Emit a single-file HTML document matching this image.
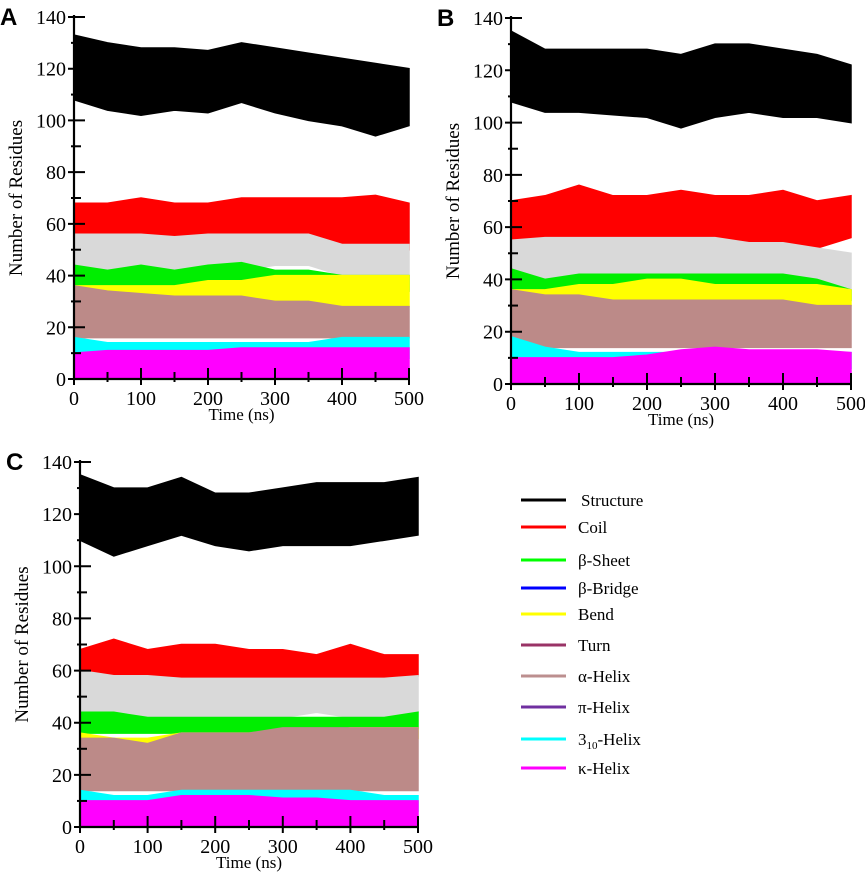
<!DOCTYPE html>
<html><head><meta charset="utf-8">
<style>
html,body{margin:0;padding:0;background:#fff;}
svg{display:block;font-family:"Liberation Serif",serif;}
</style></head>
<body>
<svg id="chart" width="865" height="876" viewBox="0 0 865 876"></svg>
<script>
const times=[0,50,100,150,200,250,300,350,400,450,500];
const xTicks=[0,100,200,300,400,500];
const yTicks=[0,20,40,60,80,100,120,140];
// Panel A
const A_structure_hi=[133,130,128,128,127,130,128,126,124,122,120];
const A_structure_lo=[108,104,102,104,103,107,103,100,98,94,98];
const A_coil_hi=[68,68,70,68,68,70,70,70,70,71,68];
const A_coil_lo=[54,54,52,54,54,54,54,52,52,50,50];
const A_other_hi=[56,56,56,55,56,56,56,56,52,52,52];
const A_other_lo=[40,40,40,40,42,42,44,44,40,40,40];
const A_sheet_hi=[44,42,44,42,44,45,42,42,40,40,40];
const A_sheet_lo=[34,34,34,34,36,36,36,36,34,34,34];
const A_bend_hi=[36,36,36,36,38,38,40,40,40,40,40];
const A_bend_lo=[30,30,30,30,30,28,26,24,26,26,28];
const A_alpha_hi=[36,34,33,32,32,32,30,30,28,28,28];
const A_alpha_lo=[16,16,16,16,16,16,16,16,16,16,16];
const A_h310_hi=[16,14,14,14,14,14,14,14,16,16,16];
const A_h310_lo=[8,8,8,8,8,8,8,8,8,8,8];
const A_kappa_hi=[10,11,11,11,11,12,12,12,12,12,12];
const A_kappa_lo=[0,0,0,0,0,0,0,0,0,0,0];
// Panel B
const B_structure_hi=[135,128,128,128,128,126,130,130,128,126,122];
const B_structure_lo=[108,104,104,103,102,98,102,104,102,102,100];
const B_coil_hi=[70,72,76,72,72,74,72,72,74,70,72];
const B_coil_lo=[55,52,54,52,52,52,54,52,52,52,56];
const B_other_hi=[55,56,56,56,56,56,56,54,54,52,50];
const B_other_lo=[40,40,42,42,40,40,40,40,40,38,36];
const B_sheet_hi=[44,40,42,42,42,42,42,42,42,40,36];
const B_sheet_lo=[36,36,36,36,36,36,36,36,36,34,32];
const B_bend_hi=[36,36,38,38,40,40,38,38,38,38,36];
const B_bend_lo=[30,30,30,30,28,26,28,28,28,28,30];
const B_alpha_hi=[36,34,34,32,32,32,32,32,32,30,30];
const B_alpha_lo=[14,14,14,14,14,14,14,14,14,14,14];
const B_h310_hi=[18,14,12,12,12,12,12,12,12,12,12];
const B_h310_lo=[6,6,6,6,6,6,6,6,6,6,6];
const B_kappa_hi=[10,10,10,10,11,13,14,13,13,13,12];
const B_kappa_lo=[0,0,0,0,0,0,0,0,0,0,0];
// Panel C
const C_structure_hi=[135,130,130,134,128,128,130,132,132,132,134];
const C_structure_lo=[110,104,108,112,108,106,108,108,108,110,112];
const C_coil_hi=[68,72,68,70,70,68,68,66,70,66,66];
const C_coil_lo=[58,56,56,56,56,56,56,56,56,56,58];
const C_other_hi=[60,58,58,57,57,57,57,57,57,57,58];
const C_other_lo=[42,44,42,42,42,42,42,44,42,42,44];
const C_sheet_hi=[44,44,42,42,42,42,42,42,42,42,44];
const C_sheet_lo=[36,36,36,36,36,36,36,38,38,38,38];
const C_bend_hi=[36,34,34,36,36,36,36,36,38,38,38];
const C_bend_lo=[30,28,28,30,32,32,32,32,34,34,34];
const C_alpha_hi=[34,34,32,36,36,36,38,38,38,38,38];
const C_alpha_lo=[14,14,14,14,14,14,14,14,14,14,14];
const C_h310_hi=[14,12,12,14,14,14,14,14,14,12,12];
const C_h310_lo=[6,6,6,6,6,6,6,6,6,6,6];
const C_kappa_hi=[10,10,10,12,12,12,11,11,10,10,10];
const C_kappa_lo=[0,0,0,0,0,0,0,0,0,0,0];

const legendLabels=["Structure","Coil","β-Sheet","β-Bridge","Bend","Turn","α-Helix","π-Helix","3₁₀-Helix","κ-Helix"];
const legendColors=["#000000","#ff0000","#00ff00","#0000ff","#ffff00","#993366","#bc8f8f","#7030a0","#00ffff","#ff00ff"];

const NS="http://www.w3.org/2000/svg";
const svg=document.getElementById('chart');
function mk(tag,attrs,parent){const e=document.createElementNS(NS,tag);for(const k in attrs)e.setAttribute(k,attrs[k]);(parent||svg).appendChild(e);return e;}

function drawPanel(letter,x0,x1,y0,y1,layers){
  const g=mk('g',{});
  
  
  const sx=t=>x0+(x1-x0)*t/500;
  const sy=v=>y0-(y0-y1)*v/140;
  layers.forEach(L=>{
    let d='';
    times.forEach((t,i)=>{d+=(i?'L':'M')+sx(t).toFixed(1)+','+sy(L.hi[i]).toFixed(1);});
    for(let i=times.length-1;i>=0;i--){d+='L'+sx(times[i]).toFixed(1)+','+sy(L.lo[i]).toFixed(1);}
    const p=mk('path',{d:d+'Z',fill:L.color,stroke:L.color,'stroke-width':1.5,'stroke-linejoin':'miter'},g);
    
    
  });
  const ax=mk('path',{d:`M${x0},${y1-2}V${y0}H${x1}`,stroke:'#000','stroke-width':2.2,fill:'none'},g);
  
  
  for(let v=0;v<=140;v+=10){
    const major=v%20===0;
    const y=sy(v);
    const tk=mk('line',{x1:x0-(major?6:3),x2:x0+(major?11:7),y1:y,y2:y,stroke:'#000','stroke-width':2},g);
    
    
  }
  yTicks.forEach(v=>{
    const t=mk('text',{x:x0-8,y:sy(v)+7,'text-anchor':'end','font-size':20},g);
    t.textContent=v;
    
    
  });
  for(let v=0;v<=500;v+=50){
    const major=v%100===0;
    const x=sx(v);
    const tk=mk('line',{x1:x,x2:x,y1:y0-(major?11:7),y2:y0+(major?6:3),stroke:'#000','stroke-width':2},g);
    
    
  }
  xTicks.forEach(v=>{
    const t=mk('text',{x:sx(v),y:y0+26,'text-anchor':'middle','font-size':20},g);
    t.textContent=v;
    
    
  });
  const xt=mk('text',{x:(x0+x1)/2,y:y0+41,'text-anchor':'middle','font-size':17},g);
  xt.textContent='Time (ns)';
  
  
  const ym=(y0+y1)/2;
  const yt=mk('text',{x:x0-52,y:ym,'text-anchor':'middle','font-size':19,transform:`rotate(-90 ${x0-52} ${ym})`},g);
  yt.textContent='Number of Residues';
  
  
  const pl=mk('text',{x:x0-74,y:y1+8,'font-size':24,'font-weight':'bold','font-family':'Liberation Sans, sans-serif'},g);
  pl.textContent=letter;
  
  
}
function layersFor(P){
  return [
    {name:'structure',color:'#000',hi:P.structure_hi,lo:P.structure_lo},
    {name:'coil',color:'#ff0000',hi:P.coil_hi,lo:P.coil_lo},
    {name:'other',color:'#d9d9d9',hi:P.other_hi,lo:P.other_lo},
    {name:'beta-sheet',color:'#00ee00',hi:P.sheet_hi,lo:P.sheet_lo},
    {name:'bend',color:'#ffff00',hi:P.bend_hi,lo:P.bend_lo},
    {name:'alpha-helix',color:'#bc8a88',hi:P.alpha_hi,lo:P.alpha_lo},
    {name:'3-10-helix',color:'#00ffff',hi:P.h310_hi,lo:P.h310_lo},
    {name:'kappa-helix',color:'#ff00ff',hi:P.kappa_hi,lo:P.kappa_lo}
  ];
}
drawPanel('A',74,409,379,17,layersFor({structure_hi:A_structure_hi,structure_lo:A_structure_lo,coil_hi:A_coil_hi,coil_lo:A_coil_lo,other_hi:A_other_hi,other_lo:A_other_lo,sheet_hi:A_sheet_hi,sheet_lo:A_sheet_lo,bend_hi:A_bend_hi,bend_lo:A_bend_lo,alpha_hi:A_alpha_hi,alpha_lo:A_alpha_lo,h310_hi:A_h310_hi,h310_lo:A_h310_lo,kappa_hi:A_kappa_hi,kappa_lo:A_kappa_lo}));
drawPanel('B',511,851,384,18,layersFor({structure_hi:B_structure_hi,structure_lo:B_structure_lo,coil_hi:B_coil_hi,coil_lo:B_coil_lo,other_hi:B_other_hi,other_lo:B_other_lo,sheet_hi:B_sheet_hi,sheet_lo:B_sheet_lo,bend_hi:B_bend_hi,bend_lo:B_bend_lo,alpha_hi:B_alpha_hi,alpha_lo:B_alpha_lo,h310_hi:B_h310_hi,h310_lo:B_h310_lo,kappa_hi:B_kappa_hi,kappa_lo:B_kappa_lo}));
drawPanel('C',80,418,827,462,layersFor({structure_hi:C_structure_hi,structure_lo:C_structure_lo,coil_hi:C_coil_hi,coil_lo:C_coil_lo,other_hi:C_other_hi,other_lo:C_other_lo,sheet_hi:C_sheet_hi,sheet_lo:C_sheet_lo,bend_hi:C_bend_hi,bend_lo:C_bend_lo,alpha_hi:C_alpha_hi,alpha_lo:C_alpha_lo,h310_hi:C_h310_hi,h310_lo:C_h310_lo,kappa_hi:C_kappa_hi,kappa_lo:C_kappa_lo}));

const legendY=[500,527,560,588,614,645,676,707,739,768];
const lg=mk('g',{});


legendLabels.forEach((lab,i)=>{
  const ln=mk('line',{x1:521,x2:566,y1:legendY[i],y2:legendY[i],stroke:legendColors[i],'stroke-width':3},lg);
  
  
  const t=mk('text',{x:i===0?581:578,y:legendY[i]+6,'font-size':17},lg);
  if(lab==='3₁₀-Helix'){
    t.textContent='3';
    const s=mk('tspan',{'font-size':11,dy:4},t);s.textContent='10';
    const s2=mk('tspan',{dy:-4},t);s2.textContent='-Helix';
  } else t.textContent=lab;
  
  
});
</script>
</body></html>
